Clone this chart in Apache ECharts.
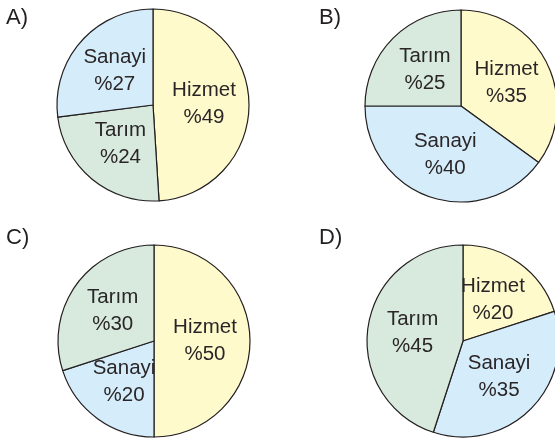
<!DOCTYPE html>
<html>
<head>
<meta charset="utf-8">
<script src="https://cdn.jsdelivr.net/npm/echarts@6/dist/echarts.min.js"></script>
<style>
  html, body { margin: 0; padding: 0; background: #fff; }
  #main { width: 555px; height: 441px; }
</style>
</head>
<body>
<div id="main"></div>
<script>
// option letters and slice data (order = clockwise from 12 o'clock)
const options = ['A)', 'B)', 'C)', 'D)'];
const namesA = ['Hizmet', 'Tarım', 'Sanayi'];
const valuesA = [49, 24, 27];
const namesB = ['Hizmet', 'Sanayi', 'Tarım'];
const valuesB = [35, 40, 25];
const namesC = ['Hizmet', 'Sanayi', 'Tarım'];
const valuesC = [50, 20, 30];
const namesD = ['Hizmet', 'Sanayi', 'Tarım'];
const valuesD = [20, 35, 45];

const colorOf = {
    'Hizmet': '#fefacc',
    'Sanayi': '#d5ecfa',
    'Tarım': '#d7eadd'
};

const pies = [
    { names: namesA, values: valuesA, center: [153, 105] },
    { names: namesB, values: valuesB, center: [461, 106] },
    { names: namesC, values: valuesC, center: [154, 341] },
    { names: namesD, values: valuesD, center: [463, 341] }
];
const titlePos = [[6, 7], [319, 7], [6, 227], [319, 227]];

window.addEventListener('load', function () {
    let chart = echarts.init(document.getElementById('main'));

    let series = pies.map(function (p) {
        return {
            type: 'pie',
            radius: 96,
            center: p.center,
            startAngle: 90,
            clockwise: true,
            silent: true,
            avoidLabelOverlap: false,
            itemStyle: { borderColor: '#231f20', borderWidth: 1.2 },
            label: {
                position: 'inside',
                formatter: function (d) { return d.name + '\n%' + d.value; },
                color: '#2a2627',
                fontFamily: 'Liberation Sans, Arial, sans-serif',
                fontSize: 20.5,
                lineHeight: 27
            },
            labelLine: { show: false },
            emphasis: { disabled: true },
            data: p.names.map(function (n, i) {
                return { name: n, value: p.values[i], itemStyle: { color: colorOf[n] } };
            })
        };
    });

    let option = {
        animation: false,
        backgroundColor: '#fff',
        title: options.map(function (t, i) {
            return {
                text: t,
                left: titlePos[i][0],
                top: titlePos[i][1],
                padding: 0,
                textStyle: {
                    color: '#231f20',
                    fontFamily: 'Liberation Sans, Arial, sans-serif',
                    fontSize: 22,
                    fontWeight: 'normal'
                }
            };
        }),
        series: series
    };

    chart.setOption(option);
}, false);
</script>
</body>
</html>
